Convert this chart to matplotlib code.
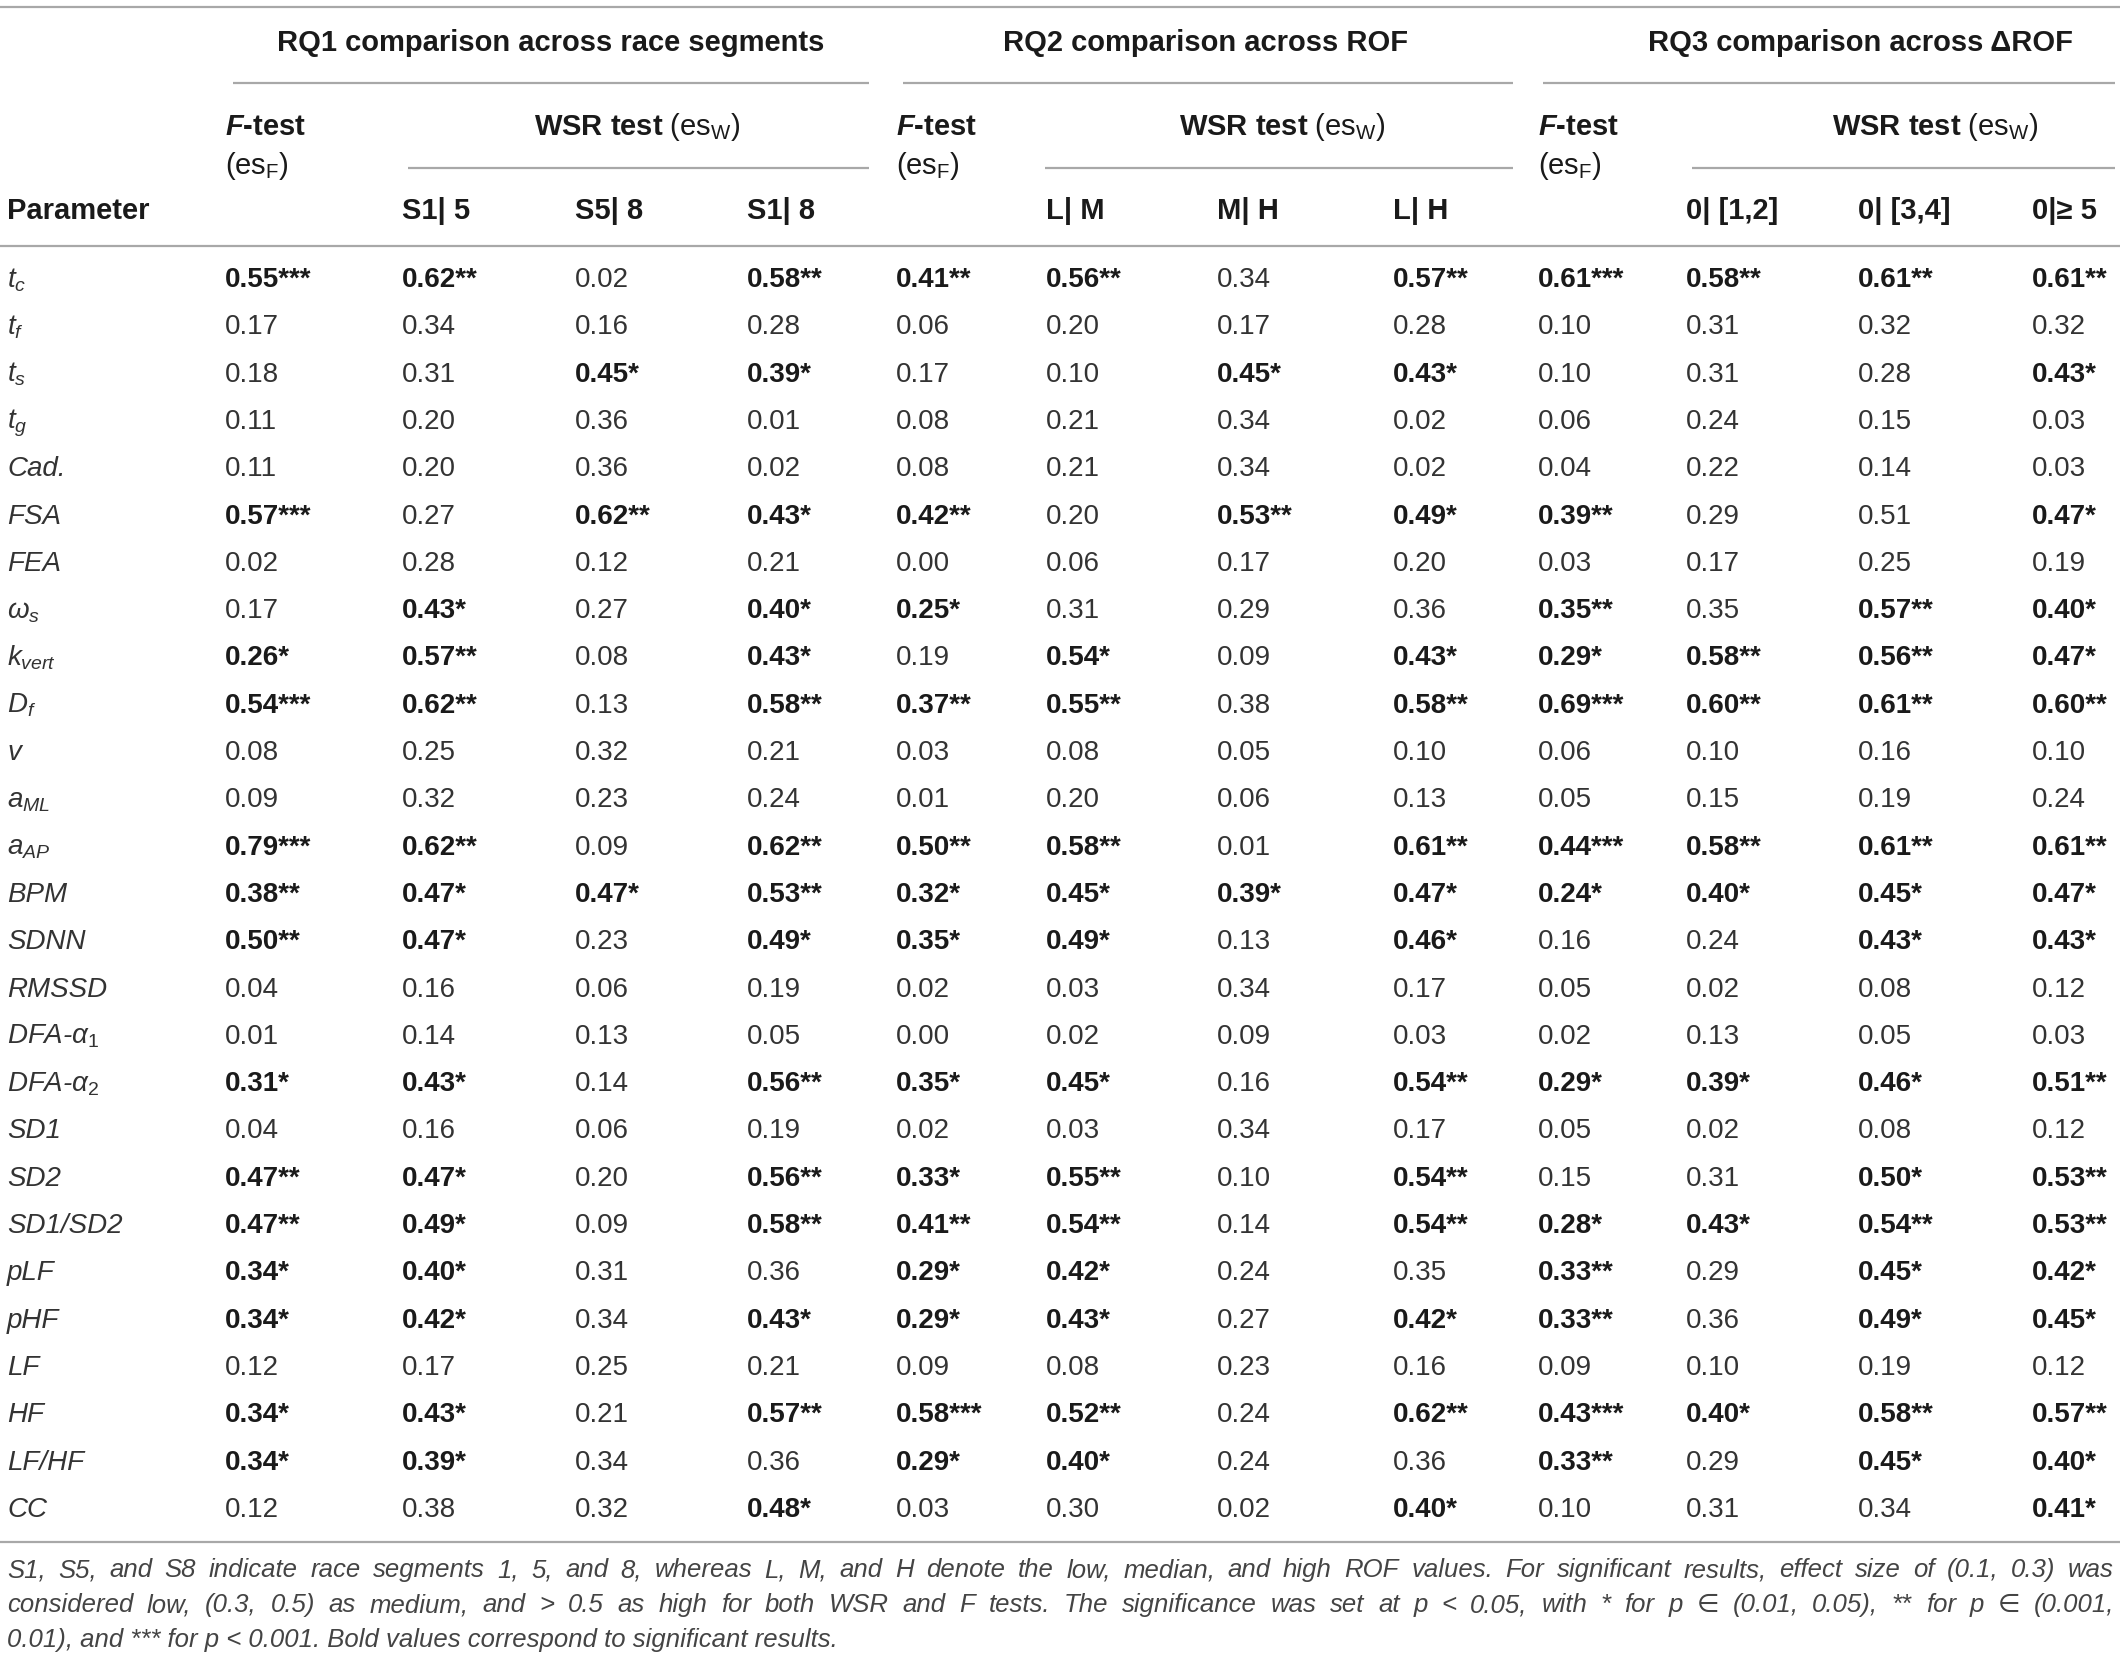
import matplotlib
matplotlib.use("Agg")
import matplotlib.pyplot as plt

plt.rcParams['font.family'] = ['Liberation Sans', 'DejaVu Sans']
plt.rcParams['mathtext.fontset'] = 'custom'
plt.rcParams['mathtext.rm'] = 'Liberation Sans'
plt.rcParams['mathtext.it'] = 'Liberation Sans:italic'
plt.rcParams['mathtext.bf'] = 'Liberation Sans:bold'
plt.rcParams['mathtext.bfit'] = 'Liberation Sans:italic:bold'

# table content
params = [r"$t_c$", r"$t_f$", r"$t_s$", r"$t_g$", "Cad.", "FSA", "FEA", r"$\omega_s$",
          r"$k_{vert}$", r"$D_f$", r"$v$", r"$a_{ML}$", r"$a_{AP}$", "BPM", "SDNN", "RMSSD",
          r"DFA-$\alpha_1$", r"DFA-$\alpha_2$", "SD1", "SD2", "SD1/SD2", "pLF", "pHF",
          "LF", "HF", "LF/HF", "CC"]

rq1_f = ["0.55***", "0.17", "0.18", "0.11", "0.11", "0.57***", "0.02", "0.17", "0.26*",
         "0.54***", "0.08", "0.09", "0.79***", "0.38**", "0.50**", "0.04", "0.01", "0.31*",
         "0.04", "0.47**", "0.47**", "0.34*", "0.34*", "0.12", "0.34*", "0.34*", "0.12"]
s1_5 = ["0.62**", "0.34", "0.31", "0.20", "0.20", "0.27", "0.28", "0.43*", "0.57**",
        "0.62**", "0.25", "0.32", "0.62**", "0.47*", "0.47*", "0.16", "0.14", "0.43*",
        "0.16", "0.47*", "0.49*", "0.40*", "0.42*", "0.17", "0.43*", "0.39*", "0.38"]
s5_8 = ["0.02", "0.16", "0.45*", "0.36", "0.36", "0.62**", "0.12", "0.27", "0.08",
        "0.13", "0.32", "0.23", "0.09", "0.47*", "0.23", "0.06", "0.13", "0.14",
        "0.06", "0.20", "0.09", "0.31", "0.34", "0.25", "0.21", "0.34", "0.32"]
s1_8 = ["0.58**", "0.28", "0.39*", "0.01", "0.02", "0.43*", "0.21", "0.40*", "0.43*",
        "0.58**", "0.21", "0.24", "0.62**", "0.53**", "0.49*", "0.19", "0.05", "0.56**",
        "0.19", "0.56**", "0.58**", "0.36", "0.43*", "0.21", "0.57**", "0.36", "0.48*"]
rq2_f = ["0.41**", "0.06", "0.17", "0.08", "0.08", "0.42**", "0.00", "0.25*", "0.19",
         "0.37**", "0.03", "0.01", "0.50**", "0.32*", "0.35*", "0.02", "0.00", "0.35*",
         "0.02", "0.33*", "0.41**", "0.29*", "0.29*", "0.09", "0.58***", "0.29*", "0.03"]
l_m = ["0.56**", "0.20", "0.10", "0.21", "0.21", "0.20", "0.06", "0.31", "0.54*",
       "0.55**", "0.08", "0.20", "0.58**", "0.45*", "0.49*", "0.03", "0.02", "0.45*",
       "0.03", "0.55**", "0.54**", "0.42*", "0.43*", "0.08", "0.52**", "0.40*", "0.30"]
m_h = ["0.34", "0.17", "0.45*", "0.34", "0.34", "0.53**", "0.17", "0.29", "0.09",
       "0.38", "0.05", "0.06", "0.01", "0.39*", "0.13", "0.34", "0.09", "0.16",
       "0.34", "0.10", "0.14", "0.24", "0.27", "0.23", "0.24", "0.24", "0.02"]
l_h = ["0.57**", "0.28", "0.43*", "0.02", "0.02", "0.49*", "0.20", "0.36", "0.43*",
       "0.58**", "0.10", "0.13", "0.61**", "0.47*", "0.46*", "0.17", "0.03", "0.54**",
       "0.17", "0.54**", "0.54**", "0.35", "0.42*", "0.16", "0.62**", "0.36", "0.40*"]
rq3_f = ["0.61***", "0.10", "0.10", "0.06", "0.04", "0.39**", "0.03", "0.35**", "0.29*",
         "0.69***", "0.06", "0.05", "0.44***", "0.24*", "0.16", "0.05", "0.02", "0.29*",
         "0.05", "0.15", "0.28*", "0.33**", "0.33**", "0.09", "0.43***", "0.33**", "0.10"]
d_12 = ["0.58**", "0.31", "0.31", "0.24", "0.22", "0.29", "0.17", "0.35", "0.58**",
        "0.60**", "0.10", "0.15", "0.58**", "0.40*", "0.24", "0.02", "0.13", "0.39*",
        "0.02", "0.31", "0.43*", "0.29", "0.36", "0.10", "0.40*", "0.29", "0.31"]
d_34 = ["0.61**", "0.32", "0.28", "0.15", "0.14", "0.51", "0.25", "0.57**", "0.56**",
        "0.61**", "0.16", "0.19", "0.61**", "0.45*", "0.43*", "0.08", "0.05", "0.46*",
        "0.08", "0.50*", "0.54**", "0.45*", "0.49*", "0.19", "0.58**", "0.45*", "0.34"]
d_5 = ["0.61**", "0.32", "0.43*", "0.03", "0.03", "0.47*", "0.19", "0.40*", "0.47*",
       "0.60**", "0.10", "0.24", "0.61**", "0.47*", "0.43*", "0.12", "0.03", "0.51**",
       "0.12", "0.53**", "0.53**", "0.42*", "0.45*", "0.12", "0.57**", "0.40*", "0.41*"]

columns = [rq1_f, s1_5, s5_8, s1_8, rq2_f, l_m, m_h, l_h, rq3_f, d_12, d_34, d_5]
col_heads = ["", "S1| 5", "S5| 8", "S1| 8", "", "L| M", "M| H", "L| H",
             "", "0| [1,2]", "0| [3,4]", "0|\u2265 5"]
groups = ["RQ1 comparison across race segments", "RQ2 comparison across ROF",
          "RQ3 comparison across \u0394ROF"]
footnote = [
    "S1, S5, and S8 indicate race segments 1, 5, and 8, whereas L, M, and H denote the low, median, "
    "and high ROF values. For significant results, effect size of (0.1, 0.3) was",
    "considered low, (0.3, 0.5) as medium, and > 0.5 as high for both WSR and F tests. The significance "
    "was set at p < 0.05, with * for p \u2208 (0.01, 0.05), ** for p \u2208 (0.001,",
    "0.01), and *** for p < 0.001. Bold values correspond to significant results.",
]

# layout (pixels)
W, H = 2120, 1667
col_x = [225, 402, 575, 747, 896, 1046, 1217, 1393, 1538, 1686, 1858, 2032]
group_cx = [551, 1206, 1861]
group_line = [(233, 869), (903, 1513), (1543, 2115)]
wsr_cx = [637, 1282, 1935]
wsr_line = [(408, 869), (1045, 1513), (1692, 2115)]
ftest_x = [225, 896, 1538]
row_y0, row_dy = 277, 47.3
fs = 20
hfs = 21
nfs = 18.5
rule_c = '#a8a8a8'
txt_c = '#333333'
bold_c = '#1a1a1a'

fig = plt.figure(figsize=(W / 100, H / 100), dpi=100)
ax = fig.add_axes([0, 0, 1, 1])
ax.set_xlim(0, W)
ax.set_ylim(H, 0)
ax.axis('off')


def hline(x0, x1, y):
    ax.plot([x0, x1], [y, y], color=rule_c, lw=1.6, solid_capstyle='butt')


hline(0, W, 7)
for (a, b) in group_line:
    hline(a, b, 83)
for (a, b) in wsr_line:
    hline(a, b, 168)
hline(0, W, 246)
hline(0, W, 1542)

for cx, g in zip(group_cx, groups):
    ax.text(cx, 51, g, ha='center', va='baseline', fontsize=hfs, fontweight='bold', color=bold_c)
for fx in ftest_x:
    ax.text(fx, 135, r"$\mathbfit{F}$-test", ha='left', va='baseline', fontsize=hfs,
            fontweight='bold', color=bold_c)
    ax.text(fx, 174, r"(es$_\mathrm{F}$)", ha='left', va='baseline', fontsize=hfs, color=bold_c)
for cx in wsr_cx:
    ax.text(cx, 135, r"$\mathbf{WSR\ test}$ (es$_\mathrm{W}$)", ha='center', va='baseline',
            fontsize=hfs, color=bold_c)

ax.text(7, 219, "Parameter", ha='left', va='baseline', fontsize=hfs, fontweight='bold', color=bold_c)
for x, h in zip(col_x, col_heads):
    if h:
        ax.text(x, 219, h, ha='left', va='baseline', fontsize=hfs, fontweight='bold', color=bold_c)

for i, p in enumerate(params):
    y = row_y0 + i * row_dy + 10
    ax.text(7, y, p, ha='left', va='baseline', fontsize=fs, style='italic', color=txt_c)
    for x, col in zip(col_x, columns):
        v = col[i]
        if '*' in v:
            ax.text(x, y, v, ha='left', va='baseline', fontsize=fs, fontweight='bold', color=bold_c)
        else:
            ax.text(x, y, v, ha='left', va='baseline', fontsize=fs, color=txt_c)

# footnote, justified like the journal layout (last line left-aligned)
renderer = fig.canvas.get_renderer()
left, right = 7, 2114
for k, line in enumerate(footnote):
    y = 1577 + k * 35
    if k == len(footnote) - 1:
        ax.text(left, y, line, ha='left', va='baseline', fontsize=nfs, style='italic',
                color='#444444')
        continue
    words = line.split(' ')
    objs = [ax.text(0, y, w, ha='left', va='baseline', fontsize=nfs, style='italic',
                    color='#444444') for w in words]
    widths = [o.get_window_extent(renderer).width for o in objs]
    gap = (right - left - sum(widths)) / (len(words) - 1)
    x = left
    for o, w in zip(objs, widths):
        o.set_x(x)
        x += w + gap

fig.savefig("out.png", dpi=100)
